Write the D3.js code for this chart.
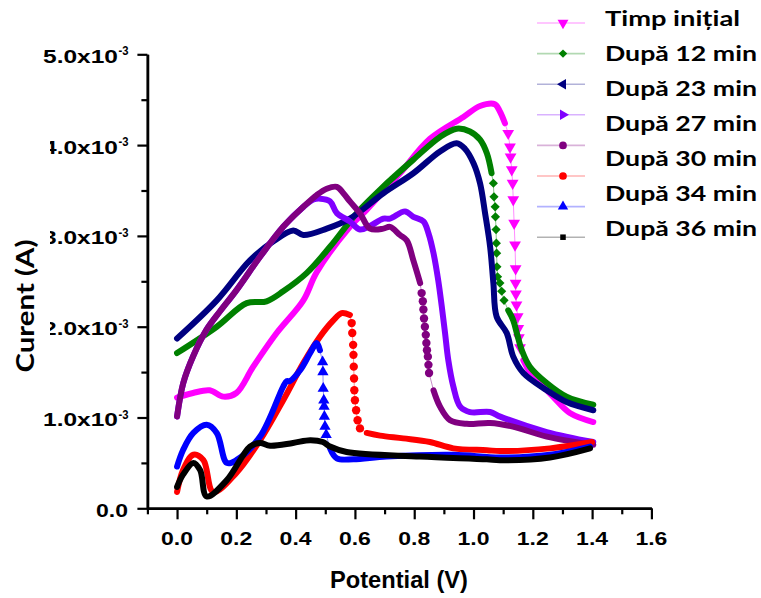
<!DOCTYPE html>
<html><head><meta charset="utf-8">
<script src="https://cdn.jsdelivr.net/npm/d3@7"></script>
<style>body{margin:0;background:#fff}svg{display:block}</style>
</head><body>
<svg id="chart" width="761" height="598"></svg>
<script>
// ---------- data (Potential in V, Current in mA) ----------
const unit = 1e-3;
const xTicks = [0.0, 0.2, 0.4, 0.6, 0.8, 1.0, 1.2, 1.4, 1.6];
const xMinorTicks = [-0.1, 0.1, 0.3, 0.5, 0.7, 0.9, 1.1, 1.3, 1.5];
const xTickLabels = ["0.0", "0.2", "0.4", "0.6", "0.8", "1.0", "1.2", "1.4", "1.6"];
const yTicks = [0, 1, 2, 3, 4, 5];
const yMinorTicks = [0.5, 1.5, 2.5, 3.5, 4.5];
const yTickLabels = ["0.0", "1.0x10", "2.0x10", "3.0x10", "4.0x10", "5.0x10"];
const yTickExponents = ["", "-3", "-3", "-3", "-3", "-3"];
const legendLabels = ["Timp inițial", "După 12 min", "După 23 min", "După 27 min", "După 30 min", "După 34 min", "După 36 min"];

const magentaMain = [[0.0,1.22],[0.054,1.27],[0.11,1.30],[0.156,1.23],[0.20,1.27],[0.257,1.56],[0.336,1.93],[0.426,2.29],[0.471,2.60],[0.583,3.10],[0.64,3.29],[0.696,3.49],[0.752,3.69],[0.853,4.07],[0.966,4.31],[1.022,4.43],[1.072,4.45],[1.089,4.37],[1.106,4.24]];
const magentaDrop = [[1.117,4.13],[1.123,3.98],[1.125,3.87],[1.129,3.73],[1.132,3.58],[1.134,3.40],[1.137,3.14],[1.140,2.90],[1.142,2.64],[1.142,2.48],[1.143,2.36],[1.145,2.24],[1.149,2.11],[1.151,1.98],[1.153,1.88],[1.157,1.77]];
const magentaTail = [[1.168,1.63],[1.19,1.50],[1.224,1.38],[1.268,1.23],[1.325,1.05],[1.404,0.95]];

const greenMain = [[0.0,1.71],[0.134,2.00],[0.235,2.26],[0.302,2.28],[0.358,2.39],[0.437,2.59],[0.516,2.88],[0.606,3.25],[0.685,3.51],[0.797,3.84],[0.887,4.09],[0.943,4.18],[0.988,4.15],[1.022,4.06],[1.045,3.91],[1.061,3.69]];
const greenDrop = [[1.067,3.58],[1.069,3.43],[1.073,3.32],[1.074,3.21],[1.076,3.07],[1.077,2.92],[1.078,2.81],[1.079,2.66],[1.081,2.55],[1.089,2.48],[1.095,2.39],[1.103,2.29]];
const greenTail = [[1.117,2.18],[1.134,2.07],[1.146,1.93],[1.163,1.74],[1.19,1.56],[1.247,1.38],[1.314,1.23],[1.404,1.14]];

const navyMain = [[0.0,1.87],[0.134,2.29],[0.246,2.73],[0.325,2.94],[0.392,3.06],[0.426,3.01],[0.505,3.08],[0.583,3.19],[0.696,3.47],[0.797,3.69],[0.887,3.93],[0.943,4.02],[0.971,3.96],[1.0,3.80],[1.022,3.58],[1.039,3.25],[1.056,2.88],[1.067,2.48],[1.078,2.11],[1.112,1.93],[1.134,1.67],[1.168,1.49],[1.247,1.30],[1.314,1.17],[1.404,1.08]];

const violetMain = [[0.0,1.01],[0.021,1.38],[0.055,1.68],[0.10,1.97],[0.145,2.17],[0.20,2.40],[0.28,2.77],[0.358,3.10],[0.426,3.32],[0.46,3.40],[0.483,3.41],[0.516,3.38],[0.539,3.25],[0.583,3.16],[0.617,3.07],[0.651,3.11],[0.696,3.19],[0.718,3.19],[0.769,3.27],[0.797,3.21],[0.831,3.16],[0.848,3.03],[0.865,2.81],[0.881,2.51],[0.893,2.22],[0.904,1.93],[0.915,1.63],[0.932,1.34],[0.955,1.12],[0.988,1.06],[1.056,1.06],[1.09,1.01],[1.247,0.84],[1.404,0.73]];

const purpleMain = [[0.0,1.01],[0.021,1.38],[0.055,1.68],[0.10,1.97],[0.145,2.17],[0.20,2.40],[0.28,2.77],[0.358,3.10],[0.426,3.32],[0.471,3.45],[0.505,3.52],[0.539,3.54],[0.561,3.47],[0.583,3.38],[0.617,3.25],[0.651,3.08],[0.696,3.08],[0.718,3.10],[0.752,3.01],[0.775,2.95],[0.797,2.73],[0.82,2.48]];
const purpleDrop = [[0.825,2.37],[0.829,2.28],[0.831,2.19],[0.833,2.09],[0.836,2.00],[0.839,1.91],[0.841,1.82],[0.843,1.74],[0.846,1.67],[0.848,1.58],[0.850,1.49]];
const purpleTail = [[0.865,1.30],[0.887,1.12],[0.921,0.97],[0.977,0.93],[1.056,0.94],[1.133,0.90],[1.247,0.79],[1.404,0.70]];

const redMain = [[0.0,0.18],[0.02,0.42],[0.055,0.59],[0.089,0.53],[0.122,0.18],[0.20,0.39],[0.28,0.75],[0.358,1.19],[0.426,1.60],[0.482,1.89],[0.527,2.07],[0.555,2.15],[0.583,2.13]];
const redDrop = [[0.589,2.04],[0.591,1.93],[0.594,1.80],[0.595,1.69],[0.596,1.56],[0.597,1.43],[0.598,1.30],[0.600,1.19],[0.604,1.08],[0.609,0.97],[0.617,0.88]];
const redTail = [[0.64,0.83],[0.685,0.80],[0.763,0.77],[0.853,0.73],[0.932,0.66],[1.045,0.64],[1.089,0.63],[1.258,0.66],[1.40,0.73]];

const blueMain = [[0.0,0.46],[0.02,0.64],[0.055,0.83],[0.10,0.92],[0.134,0.83],[0.168,0.50],[0.20,0.53],[0.28,0.79],[0.358,1.34],[0.37,1.40],[0.38,1.40],[0.415,1.52],[0.449,1.71],[0.471,1.82],[0.482,1.74]];
const blueDrop = [[0.491,1.61],[0.492,1.50],[0.493,1.32],[0.495,1.19],[0.496,1.12],[0.497,1.01],[0.499,0.90],[0.503,0.81]];
const blueTail = [[0.516,0.66],[0.539,0.55],[0.595,0.54],[0.707,0.57],[0.932,0.59],[1.089,0.56],[1.258,0.59],[1.393,0.68]];

const blackMain = [[0.0,0.235],[0.02,0.37],[0.055,0.50],[0.078,0.42],[0.10,0.13],[0.168,0.31],[0.246,0.68],[0.28,0.72],[0.314,0.69],[0.391,0.72],[0.449,0.75],[0.492,0.73],[0.516,0.68],[0.572,0.62],[0.82,0.57],[1.045,0.54],[1.089,0.53],[1.258,0.56],[1.393,0.66]];

// ---------- series table ----------
const series = [
  {color:"#ff00ff", sym:d3.symbolTriangle, rot:180, size:60, main:magentaMain, drop:magentaDrop, tail:magentaTail},
  {color:"#008000", sym:d3.symbolSquare, rot:45, size:42, main:greenMain, drop:greenDrop, tail:greenTail},
  {color:"#000080", sym:d3.symbolTriangle, rot:-90, size:55, main:navyMain, drop:[], tail:[]},
  {color:"#8000ff", sym:d3.symbolTriangle, rot:90, size:55, main:violetMain, drop:[], tail:[]},
  {color:"#800080", sym:d3.symbolCircle, rot:0, size:55, main:purpleMain, drop:purpleDrop, tail:purpleTail},
  {color:"#ff0000", sym:d3.symbolCircle, rot:0, size:55, main:redMain, drop:redDrop, tail:redTail},
  {color:"#0000ff", sym:d3.symbolTriangle, rot:0, size:55, main:blueMain, drop:blueDrop, tail:blueTail},
  {color:"#000000", sym:d3.symbolSquare, rot:0, size:36, main:blackMain, drop:[], tail:[]}
];

// ---------- scales ----------
const svg = d3.select("#chart");
const x = d3.scaleLinear().domain([-0.1, 1.6]).range([147.4, 651.4]);
const y = d3.scaleLinear().domain([0, 5 * unit]).range([508.3, 54.3]);
const px = d => x(d[0]), py = d => y(d[1] * unit);

// ---------- axes ----------
const axisFont = "'Liberation Sans', Arial, sans-serif";
function styleAxis(g){
  g.select(".domain").attr("stroke","#000").attr("stroke-width",2.5);
  g.selectAll(".tick line").attr("stroke","#000").attr("stroke-width",2.2);
}
svg.append("g").attr("transform","translate(0,508.3)")
  .call(d3.axisBottom(x).tickValues(xTicks).tickSize(11).tickSizeOuter(0).tickFormat(()=>""))
  .call(styleAxis);
svg.append("g").attr("transform","translate(0,508.3)")
  .call(d3.axisBottom(x).tickValues(xMinorTicks).tickSize(6).tickSizeOuter(0).tickFormat(()=>""))
  .call(styleAxis);
svg.append("g").attr("transform","translate(147.4,0)")
  .call(d3.axisLeft(y).tickValues(yTicks.map(v=>v*unit)).tickSize(10).tickSizeOuter(0).tickFormat(()=>""))
  .call(styleAxis);
svg.append("g").attr("transform","translate(147.4,0)")
  .call(d3.axisLeft(y).tickValues(yMinorTicks.map(v=>v*unit)).tickSize(6).tickSizeOuter(0).tickFormat(()=>""))
  .call(styleAxis);

// x tick labels
svg.append("g").selectAll("text").data(xTicks).join("text")
  .attr("x", d => x(d)).attr("y", 545)
  .attr("text-anchor","middle").attr("font-family",axisFont).attr("font-weight","bold")
  .attr("font-size",19).attr("textLength",32).attr("lengthAdjust","spacingAndGlyphs")
  .text((d,i) => xTickLabels[i]);

// y tick labels
const yl = svg.append("g");
yTicks.forEach((v,i) => {
  const hasExp = yTickExponents[i] !== "";
  yl.append("text")
    .attr("x", hasExp ? 118 : 128).attr("y", y(v*unit) + 8.5)
    .attr("text-anchor","end").attr("font-family",axisFont).attr("font-weight","bold")
    .attr("font-size",19).attr("textLength", hasExp ? 75 : 32).attr("lengthAdjust","spacingAndGlyphs")
    .text(yTickLabels[i]);
  if (hasExp) {
    yl.append("text")
      .attr("x",118.5).attr("y", y(v*unit) + 1)
      .attr("font-family",axisFont).attr("font-weight","bold")
      .attr("font-size",13).attr("textLength",10).attr("lengthAdjust","spacingAndGlyphs")
      .text(yTickExponents[i]);
  }
});

// white box behind the y title (covers part of the tick labels, as in the original)
svg.append("rect").attr("x",0).attr("y",140).attr("width",50).attr("height",245).attr("fill","#fff");

// axis titles
svg.append("text").attr("x",399).attr("y",588).attr("text-anchor","middle")
  .attr("font-family",axisFont).attr("font-weight","bold").attr("font-size",23)
  .attr("textLength",138).attr("lengthAdjust","spacingAndGlyphs").text("Potential (V)");
svg.append("text").attr("transform","translate(34,306) rotate(-90)").attr("text-anchor","middle")
  .attr("font-family","Lato, 'Open Sans', sans-serif").attr("font-weight","bold").attr("font-size",24)
  .attr("textLength",133).attr("lengthAdjust","spacingAndGlyphs").text("Curent (A)");

// ---------- curves ----------
const thick = d3.line().x(px).y(py).curve(d3.curveCatmullRom.alpha(0.5));
const thin = d3.line().x(px).y(py);
const plot = svg.append("g");
series.forEach(s => {
  const g = plot.append("g");
  if (s.drop.length) {
    const bridge = [s.main[s.main.length-1], ...s.drop, ...(s.tail.length ? [s.tail[0]] : [])];
    g.append("path").attr("d", thin(bridge)).attr("fill","none")
      .attr("stroke", s.color).attr("stroke-width",1).attr("stroke-opacity",0.45);
  }
  [s.main, s.tail].filter(a => a.length).forEach(a => {
    g.append("path").attr("d", thick(a)).attr("fill","none").attr("stroke", s.color)
      .attr("stroke-width",6).attr("stroke-linecap","round").attr("stroke-linejoin","round");
  });
  g.selectAll(".m").data(s.drop).join("path")
    .attr("transform", d => `translate(${px(d)},${py(d)}) rotate(${s.rot})`)
    .attr("d", d3.symbol().type(s.sym).size(s.size)).attr("fill", s.color);
});

// ---------- legend ----------
const lg = svg.append("g");
series.forEach((s,i) => {
  const ry = 23 + i * 30.6;
  lg.append("line").attr("x1",537).attr("x2",585).attr("y1",ry).attr("y2",ry)
    .attr("stroke", s.color).attr("stroke-width",1.6).attr("stroke-opacity",0.3);
  lg.append("path").attr("transform",`translate(563,${ry}) rotate(${s.rot})`)
    .attr("d", d3.symbol().type(s.sym).size(s.size*0.85)).attr("fill", s.color);
});
legendLabels.forEach((t,i) => {
  lg.append("text").attr("x",605).attr("y",26 + i*35)
    .attr("font-family","Lato, 'Open Sans', sans-serif").attr("font-weight","bold").attr("font-size",21)
    .attr("textLength", i === 0 ? 135 : 152).attr("lengthAdjust","spacingAndGlyphs")
    .text(t);
});
</script>
</body></html>
